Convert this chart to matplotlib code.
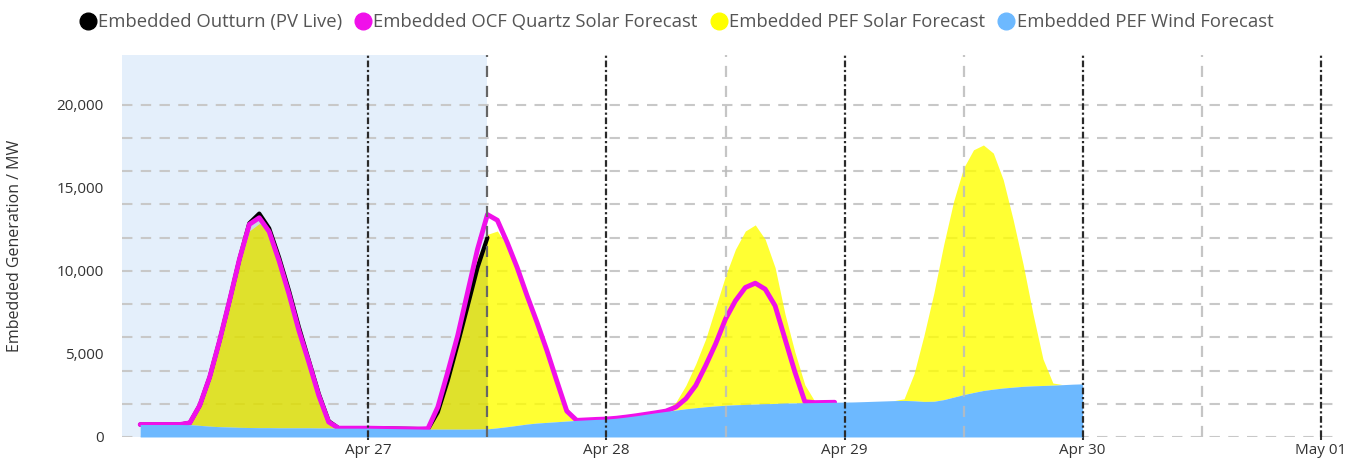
import numpy as np
import pandas as pd
import matplotlib
matplotlib.use("Agg")
import matplotlib.pyplot as plt
import matplotlib.dates as mdates
from matplotlib.lines import Line2D
from matplotlib.ticker import FixedLocator, FuncFormatter

plt.rcParams['font.family'] = ['Open Sans', 'DejaVu Sans']

# Datos horarios desde 2024-04-26 01:00 (MW)
wind = [750, 750, 750, 750, 750, 740, 700, 650, 620, 600, 580, 570, 560, 560, 550, 550, 550, 550, 540, 540, 530, 530, 530,
        530, 520, 510, 500, 490, 480, 470, 470, 470, 470, 470, 480, 490, 550, 620, 700, 780, 840, 880, 920, 960, 1000, 1030, 1060,
        1080, 1130, 1200, 1280, 1370, 1460, 1540, 1620, 1700, 1760, 1820, 1870, 1910, 1940, 1960, 1980, 2000, 2020, 2040, 2050, 2060, 2070, 2080, 2090,
        2100, 2110, 2130, 2150, 2170, 2190, 2200, 2180, 2140, 2150, 2250, 2400, 2550, 2680, 2800, 2880, 2950, 3000, 3050, 3080, 3100, 3120, 3150, 3180,
        3200]

pef_solar = [0, 0, 0, 0, 0, 150, 1000, 2650, 4880, 7300, 9820, 11830, 12290, 11940, 10450, 8450, 6250, 4150, 2160, 560, 0, 0, 0,
             0, 0, 0, 0, 0, 0, 10, 1130, 3130, 5330, 7810, 10320, 11710, 11850, 10880, 9600, 7920, 6260, 4520, 2680, 840, 0, 0, 0,
             0, 0, 0, 0, 0, 0, 60, 480, 1400, 2640, 4080, 5930, 7790, 9360, 10440, 10790, 9900, 8180, 5360, 3050, 1080, 80, 0, 0,
             0, 0, 0, 0, 0, 0, 100, 1620, 3960, 6510, 9350, 11800, 13650, 14610, 14780, 14210, 12530, 10070, 7350, 4320, 1600, 130, 0, 0,
             0]

ocf_solar = [0, 0, 0, 0, 0, 110, 1200, 2950, 5180, 7600, 10120, 12230, 12640, 11800, 10050, 8050, 5850, 3950, 1960, 360, 0, 0, 0,
             0, 0, 0, 0, 0, 0, 30, 1330, 3430, 5630, 8230, 10820, 12900, 12500, 11080, 9500, 7720, 6060, 4320, 2440, 600, 0, 0, 0,
             0, 0, 0, 0, 0, 0, 20, 180, 600, 1340, 2480, 3730, 5190, 6260, 7040, 7280, 6900, 5880, 3860, 1850, 60, 0, 0, 0]

outturn = [0, 0, 0, 0, 0, 110, 1200, 2950, 5180, 7600, 10120, 12300, 12890, 12000, 10250, 8250, 6050, 4050, 2060, 410, 0, 0, 0,
           0, 0, 0, 0, 0, 0, 0, 1030, 2930, 5130, 7410, 9720, 11510]

labels = ['Embedded Outturn (PV Live)', 'Embedded OCF Quartz Solar Forecast',
          'Embedded PEF Solar Forecast', 'Embedded PEF Wind Forecast']
colors = ['#000000', '#f010ea', '#ffff00', '#6db9ff']

times = pd.date_range('2024-04-26 01:00', periods=len(wind), freq='h')
wind = np.array(wind)
pef_solar = np.array(pef_solar)
ocf_solar = np.array(ocf_solar)
outturn = np.array(outturn)
n_ocf = len(ocf_solar)
n_out = len(outturn)

fig = plt.figure(figsize=(13.68, 4.63), dpi=100)
ax = fig.add_axes([0.0892, 0.0562, 0.8853, 0.8251])

x0 = pd.Timestamp('2024-04-25 23:10')
x1 = pd.Timestamp('2024-05-01 01:15')
ahora = pd.Timestamp('2024-04-27 12:00')

# banda sombreada (pasado)
ax.axvspan(x0, ahora, color='#e4effb', zorder=0, lw=0)

# areas (apiladas sobre el viento)
ax.fill_between(times, wind, wind + pef_solar, color=colors[2], alpha=0.8, lw=0, zorder=2)
ax.fill_between(times[:n_out], wind[:n_out], wind[:n_out] + outturn, color='black', alpha=0.1, lw=0, zorder=3)

# lineas (por debajo del area de viento)
ax.plot(times[:n_out], wind[:n_out] + outturn, color=colors[0], lw=3, zorder=4, solid_capstyle='round')
ax.plot(times[:n_ocf], wind[:n_ocf] + ocf_solar, color=colors[1], lw=3.5, zorder=5, solid_capstyle='round')

ax.fill_between(times, 0, wind, color=colors[3], lw=0, zorder=6)

# lineas verticales
dias = pd.date_range('2024-04-27', '2024-05-01', freq='D')
mediodias = pd.date_range('2024-04-27 12:00', '2024-04-30 12:00', freq='D')
for d in dias:
    ax.axvline(d, color='#2a2a2a', lw=1.6, ls=(0, (3, 1.2, 1, 1.2)), zorder=10)
for d in mediodias:
    if d == ahora:
        ax.axvline(d, color='#666666', lw=1.6, ls=(0, (5, 4)), zorder=10)
    else:
        ax.axvline(d, color='#bbbbbb', lw=1.6, ls=(0, (5, 4)), alpha=0.85, zorder=10)

# ejes
ax.set_xlim(x0, x1)
ax.set_ylim(0, 23000)
ax.set_xticks(dias)
ax.xaxis.set_major_formatter(mdates.DateFormatter('%b %d'))
ax.set_yticks([0, 5000, 10000, 15000, 20000])
ax.yaxis.set_major_formatter(FuncFormatter(lambda v, p: f'{int(v):,}'))
ax.yaxis.set_minor_locator(FixedLocator(np.arange(0, 20001, 2000)))
ax.yaxis.remove_overlapping_locs = False
ax.grid(which='minor', axis='y', color='#c8c8c8', lw=1.5, ls=(0, (5, 4)), zorder=1)
ax.set_axisbelow(True)
ax.tick_params(axis='y', which='both', length=0, pad=13, labelsize=11, labelcolor='#333333')
ax.tick_params(axis='x', length=2.5, width=1.5, color='#333333', pad=1.5, labelsize=11, labelcolor='#333333')
for s in ax.spines.values():
    s.set_visible(False)

ax.set_ylabel('Embedded Generation / MW', fontsize=11.5, color='#333333')
ax.yaxis.set_label_coords(-0.082, 0.5)

# leyenda
handles = [Line2D([], [], ls='', marker='o', markersize=12, color=c) for c in colors]
fig.legend(handles, labels, loc='center', bbox_to_anchor=(0.494, 0.952), ncol=4, frameon=False,
           fontsize=13.3, labelcolor='#555555', handletextpad=0.05, columnspacing=0.65, handlelength=1.0)

fig.savefig('out.png', dpi=100)
